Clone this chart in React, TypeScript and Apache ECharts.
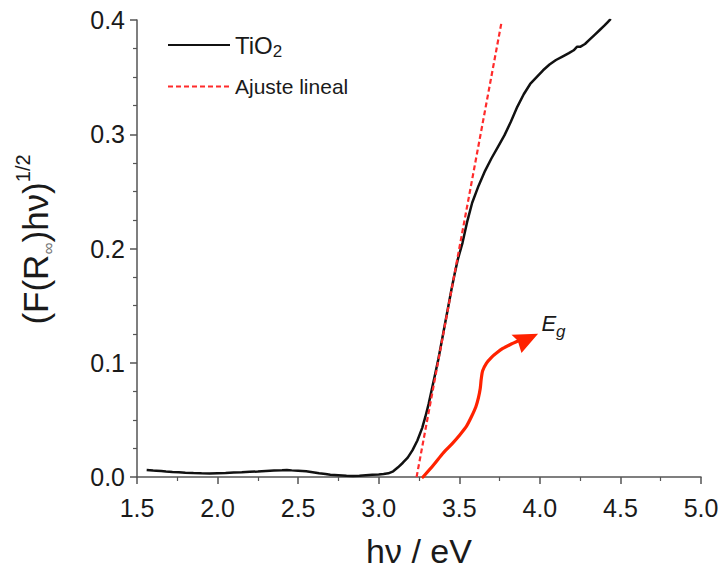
import React, { useEffect, useRef } from "react";
import * as echarts from "echarts";

// TiO2 Kubelka-Munk curve (photon energy in eV, (F(R)hv)^1/2)
const ENERGY = [
  1.56, 1.58, 1.6, 1.62, 1.65, 1.68, 1.72, 1.76, 1.8, 1.85, 1.9, 1.95, 2.0, 2.05, 2.1, 2.15, 2.2, 2.25, 2.3,
  2.35, 2.4, 2.43, 2.46, 2.5, 2.55, 2.6, 2.63, 2.67, 2.7, 2.75, 2.8, 2.84, 2.88, 2.92, 2.96, 3.0, 3.03, 3.06,
  3.09, 3.12, 3.15, 3.18, 3.21, 3.24, 3.27, 3.29, 3.31, 3.33, 3.35, 3.37, 3.39, 3.41, 3.43, 3.45, 3.47, 3.49,
  3.52, 3.55, 3.58, 3.62, 3.66, 3.7, 3.74, 3.78, 3.82, 3.86, 3.9, 3.94, 3.98, 4.02, 4.06, 4.1, 4.14, 4.18,
  4.21, 4.23, 4.25, 4.28, 4.31, 4.34, 4.37, 4.4, 4.42, 4.44,
];
const TIO2 = [
  0.0062, 0.006, 0.0057, 0.0055, 0.0052, 0.0048, 0.0044, 0.0041, 0.0038, 0.0035, 0.0032, 0.0031, 0.0033,
  0.0035, 0.004, 0.0042, 0.0045, 0.0048, 0.0053, 0.0057, 0.006, 0.0062, 0.0058, 0.0055, 0.005, 0.004, 0.0032,
  0.0026, 0.002, 0.0016, 0.0012, 0.0009, 0.0012, 0.0016, 0.002, 0.0022, 0.0026, 0.0032, 0.005, 0.0085, 0.0125,
  0.017, 0.0235, 0.032, 0.043, 0.053, 0.064, 0.077, 0.09, 0.103, 0.118, 0.133, 0.148, 0.163, 0.177, 0.19,
  0.205, 0.224, 0.24, 0.255, 0.268, 0.279, 0.289, 0.299, 0.311, 0.324, 0.335, 0.344, 0.35, 0.356, 0.361,
  0.365, 0.368, 0.371, 0.3735, 0.3765, 0.3765, 0.379, 0.383, 0.387, 0.391, 0.395, 0.398, 0.401,
];

// Linear fit (tangent) line endpoints
const FIT_E = [3.235, 3.762];
const FIT_V = [0.0, 0.398];

// Curved arrow annotation pointing to Eg (data coordinates)
const ARROW_E = [3.275, 3.34, 3.399, 3.455, 3.503, 3.545, 3.576, 3.603, 3.619, 3.63, 3.636, 3.645, 3.669, 3.7, 3.731, 3.77, 3.814, 3.87];
const ARROW_V = [0.0, 0.0105, 0.0208, 0.029, 0.0368, 0.0445, 0.0529, 0.0615, 0.0695, 0.0775, 0.0855, 0.093, 0.0997, 0.1048, 0.1085, 0.1125, 0.1158, 0.1195];
const HEAD_E = [3.989, 3.824, 3.862, 3.886];
const HEAD_V = [0.1254, 0.1246, 0.1195, 0.1085];
const EG_POS = [4.01, 0.134];

const X_MIN = 1.5;
const X_MAX = 5.0;
const X_STEP = 0.5;
const Y_MIN = 0.0;
const Y_MAX = 0.4;
const Y_STEP = 0.1;

const FONT = '"Liberation Sans", Arial, Helvetica, sans-serif';
const AXIS_COLOR = "#555";
const TEXT_COLOR = "#1a1a1a";
const FIT_RED = "#ff2b2b";
const ARROW_RED = "#ff2200";

export default function App() {
  const ref = useRef<HTMLDivElement>(null);

  useEffect(() => {
    if (!ref.current) return;
    const chart = echarts.init(ref.current, undefined, { renderer: "svg" });

    const curve = ENERGY.map((e, i) => [e, TIO2[i]]);
    const fit = FIT_E.map((e, i) => [e, FIT_V[i]]);

    chart.setOption({
      animation: false,
      backgroundColor: "#fff",
      textStyle: { fontFamily: FONT },
      grid: { left: 137, right: 22, top: 20, bottom: 94, containLabel: false, outerBoundsMode: "none" },
      legend: {
        data: ["TiO2", "Ajuste lineal"],
        orient: "vertical",
        left: 167,
        top: 33,
        padding: 0,
        itemWidth: 62,
        itemHeight: 2,
        itemGap: 16,
        selectedMode: false,
        itemStyle: { opacity: 0 },
        formatter: (name: string) => (name === "TiO2" ? "{a|TiO}{s|2}" : "{b|Ajuste lineal}"),
        textStyle: {
          color: TEXT_COLOR,
          fontFamily: FONT,
          rich: {
            a: { fontSize: 24, fontFamily: FONT, color: TEXT_COLOR, verticalAlign: "middle", lineHeight: 30 },
            s: { fontSize: 17, fontFamily: FONT, color: TEXT_COLOR, verticalAlign: "bottom", lineHeight: 30 },
            b: { fontSize: 21, fontFamily: FONT, color: TEXT_COLOR, lineHeight: 24 },
          },
        },
      },
      xAxis: {
        type: "value",
        min: X_MIN,
        max: X_MAX,
        interval: X_STEP,
        name: "hν / eV",
        nameLocation: "middle",
        nameGap: 57,
        nameTextStyle: { fontSize: 34, color: TEXT_COLOR, fontFamily: FONT, lineHeight: 34 },
        axisLine: { show: true, onZero: false, lineStyle: { color: AXIS_COLOR, width: 1.5 } },
        axisTick: { show: true, inside: false, length: 7, lineStyle: { color: AXIS_COLOR, width: 1.5 } },
        minorTick: { show: true, splitNumber: 2, length: 4, lineStyle: { color: AXIS_COLOR, width: 1.2 } },
        splitLine: { show: false },
        minorSplitLine: { show: false },
        axisLabel: {
          fontSize: 25,
          color: TEXT_COLOR,
          fontFamily: FONT,
          margin: 18,
          formatter: (v: number) => v.toFixed(1),
        },
      },
      yAxis: {
        type: "value",
        min: Y_MIN,
        max: Y_MAX,
        interval: Y_STEP,
        name: "(F(R{sub|∞})hν){sup|1/2}",
        nameLocation: "middle",
        nameGap: 80,
        nameTextStyle: {
          fontSize: 35,
          color: TEXT_COLOR,
          fontFamily: FONT,
          lineHeight: 44,
          padding: [0, 0, 0, 18],
          rich: {
            sub: { fontSize: 17, color: "#777", fontFamily: FONT, verticalAlign: "bottom", lineHeight: 44 },
            sup: { fontSize: 20, color: TEXT_COLOR, fontFamily: FONT, verticalAlign: "top", lineHeight: 44 },
          },
        },
        axisLine: { show: true, onZero: false, lineStyle: { color: AXIS_COLOR, width: 1.5 } },
        axisTick: { show: true, inside: false, length: 7, lineStyle: { color: AXIS_COLOR, width: 1.5 } },
        minorTick: { show: true, splitNumber: 4, length: 4, lineStyle: { color: AXIS_COLOR, width: 1.2 } },
        splitLine: { show: false },
        minorSplitLine: { show: false },
        axisLabel: {
          fontSize: 25,
          color: TEXT_COLOR,
          fontFamily: FONT,
          margin: 12,
          formatter: (v: number) => v.toFixed(1),
        },
      },
      series: [
        {
          name: "TiO2",
          type: "line",
          data: curve,
          showSymbol: false,
          symbol: "none",
          smooth: false,
          lineStyle: { color: "#111", width: 2.5 },
          itemStyle: { color: "#111" },
          z: 3,
        },
        {
          name: "Ajuste lineal",
          type: "line",
          data: fit,
          showSymbol: false,
          symbol: "none",
          lineStyle: { color: FIT_RED, width: 2.2, type: [5, 3] },
          itemStyle: { color: FIT_RED },
          z: 4,
        },
        {
          name: "arrow",
          type: "custom",
          data: [EG_POS],
          clip: false,
          silent: true,
          z: 5,
          renderItem: (_params: any, api: any) => {
            const pts = ARROW_E.map((e, i) => api.coord([e, ARROW_V[i]]));
            const head = HEAD_E.map((e, i) => api.coord([e, HEAD_V[i]]));
            const lab = api.coord(EG_POS);
            return {
              type: "group",
              children: [
                {
                  type: "polyline",
                  shape: { points: pts, smooth: 0.25 },
                  style: { stroke: ARROW_RED, lineWidth: 3.2, fill: "none", lineCap: "round" },
                },
                { type: "polygon", shape: { points: head }, style: { fill: ARROW_RED } },
                {
                  type: "text",
                  x: lab[0],
                  y: lab[1],
                  style: {
                    text: "E",
                    fontSize: 22,
                    fontStyle: "italic",
                    fontFamily: FONT,
                    fill: TEXT_COLOR,
                    align: "left",
                    verticalAlign: "middle",
                  },
                },
                {
                  type: "text",
                  x: lab[0] + 14.5,
                  y: lab[1] + 8,
                  style: {
                    text: "g",
                    fontSize: 17,
                    fontStyle: "italic",
                    fontFamily: FONT,
                    fill: TEXT_COLOR,
                    align: "left",
                    verticalAlign: "middle",
                  },
                },
              ],
            };
          },
        },
      ],
    });

    return () => chart.dispose();
  }, []);

  return (
    <div
      ref={ref}
      style={{ position: "fixed", left: 0, top: 0, width: "723px", height: "571px", background: "#fff" }}
    />
  );
}
